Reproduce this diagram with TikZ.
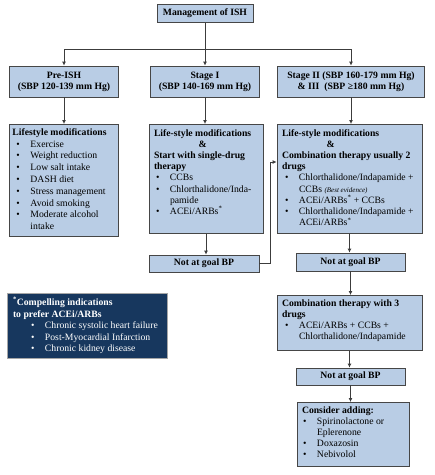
\documentclass[tikz,border=0pt]{standalone}
\usepackage{fontspec}
\setmainfont{Liberation Serif}
\usetikzlibrary{arrows.meta}

\definecolor{boxfill}{RGB}{185,205,229}
\definecolor{boxline}{RGB}{70,70,70}
\definecolor{wirecol}{RGB}{60,60,60}
\definecolor{navy}{RGB}{23,55,94}

% bullet line with hanging indent
\newcommand{\bitem}[2][3pt]{\par\hangindent=\dimexpr#1+14pt\relax\hangafter=1\noindent\hspace*{#1}\makebox[14pt][l]{\textbullet}{\let\\\newline#2}}
% top aligned box content
\newcommand{\panel}[3]{\parbox[t][#2][t]{#1}{\raggedright #3}}

\begin{document}
\begin{tikzpicture}[x=1pt, y=-1pt,
	box/.style={draw=boxline, fill=boxfill, line width=0.8pt, font=\fontsize{9.7}{11.2}\selectfont},
	head/.style={box, font=\bfseries\fontsize{9.7}{11.2}\selectfont, align=center, inner sep=2pt},
	list/.style={box, anchor=north, inner xsep=5pt, inner ysep=4pt},
	wire/.style={draw=wirecol, line width=0.8pt},
	arr/.style={wire, -{Latex[length=4pt, width=4pt]}}]
	\useasboundingbox (0,0) rectangle (435,475);

	\node[head, minimum width=96pt, minimum height=18pt] (mgmt) at (205,13.5) {Management of ISH};
	\node[head, minimum width=109pt, minimum height=31pt] (pre) at (64,81.5) {Pre-ISH\\(SBP 120-139 mm Hg)};
	\node[head, minimum width=109pt, minimum height=31pt] (st1) at (205,81.5) {Stage I\\(SBP 140-169 mm Hg)};
	\node[head, minimum width=147pt, minimum height=31pt] (st23) at (351,81.5) {Stage II (SBP 160-179 mm Hg)\\\& III\ \ (SBP ≥180 mm Hg)};

	\node[list, inner xsep=3pt] (lifestyle) at (64,124) {\panel{103pt}{104pt}{\fontsize{9.7}{11.8}\selectfont
		\textbf{Lifestyle modifications}
		\bitem[4pt]{Exercise}
		\bitem[4pt]{Weight reduction}
		\bitem[4pt]{Low salt intake}
		\bitem[4pt]{DASH diet}
		\bitem[4pt]{Stress management}
		\bitem[4pt]{Avoid smoking}
		\bitem[4pt]{Moderate alcohol\\intake}}};
	\node[list] (mono) at (206,124) {\panel{104pt}{101pt}{%
		\textbf{\begin{tabular}[t]{@{}c@{}}Life-style modifications\\\&\end{tabular}}\par
		\textbf{Start with single-drug\\therapy}
		\bitem[2pt]{CCBs}
		\bitem[2pt]{Chlorthalidone/Inda-\\pamide}
		\bitem[2pt]{ACEi/ARBs\textsuperscript{*}}}};
	\node[list] (combo) at (349.5,124) {\panel{135pt}{101pt}{%
		\textbf{\begin{tabular}[t]{@{}c@{}}Life-style modifications\\\&\end{tabular}}\par
		\textbf{Combination therapy usually 2\\drugs}
		\bitem{Chlorthalidone/Indapamide +\\CCBs {\fontsize{7}{8}\selectfont\itshape (Best evidence)}}
		\bitem{ACEi/ARBs\textsuperscript{*} + CCBs}
		\bitem{Chlorthalidone/Indapamide +\\ACEi/ARBs\textsuperscript{*}}}};

	\node[head, minimum width=110pt, minimum height=17pt] (ngoal1) at (204,263.5) {Not at goal BP};
	\node[head, minimum width=109pt, minimum height=18pt] (ngoal2) at (350.5,262) {Not at goal BP};
	\node[list] (triple) at (349.5,295) {\panel{135pt}{47pt}{%
		\textbf{Combination therapy with 3\\drugs}
		\bitem{ACEi/ARBs + CCBs +\\Chlorthalidone/Indapamide}}};
	\node[head, minimum width=109pt, minimum height=17pt] (ngoal3) at (350.5,376.5) {Not at goal BP};
	\node[list] (addon) at (353,402) {\panel{102pt}{56pt}{%
		\textbf{Consider adding:}
		\bitem[1pt]{Spirinolactone or\\Eplerenone}
		\bitem[1pt]{Doxazosin}
		\bitem[1pt]{Nebivolol}}};

	\node[list, fill=navy, draw=gray!70, text=white, inner xsep=6pt] (note) at (87,293) {\panel{148pt}{57pt}{\fontsize{9.7}{11.5}\selectfont
		\textbf{\textsuperscript{*}Compelling indications\\to prefer ACEi/ARBs}
		\bitem[18pt]{Chronic systolic heart failure}
		\bitem[18pt]{Post-Myocardial Infarction}
		\bitem[18pt]{Chronic kidney disease}}};

	% connectors
	\coordinate (split) at (205,49);
	\coordinate (bend) at (270,162);
	\draw[wire] (mgmt) -- (split);
	\draw[arr] (split) -| (pre);
	\draw[arr] (split) -- (st1);
	\draw[arr] (split) -| (st23);
	\draw[arr] (pre) -- (pre |- lifestyle.north);
	\draw[arr] (st1) -- (st1 |- mono.north);
	\draw[arr] (st23) -- (st23 |- combo.north);
	\draw[arr] (mono) -- (mono |- ngoal1.north);
	\draw[arr] (ngoal1.east) -| (bend) -- (bend -| combo.west);
	\draw[arr] (combo) -- (combo |- ngoal2.north);
	\draw[arr] (ngoal2) -- (ngoal2 |- triple.north);
	\draw[arr] (triple) -- (triple |- ngoal3.north);
	\draw[arr] (ngoal3) -- (ngoal3 |- addon.north);
\end{tikzpicture}
\end{document}
